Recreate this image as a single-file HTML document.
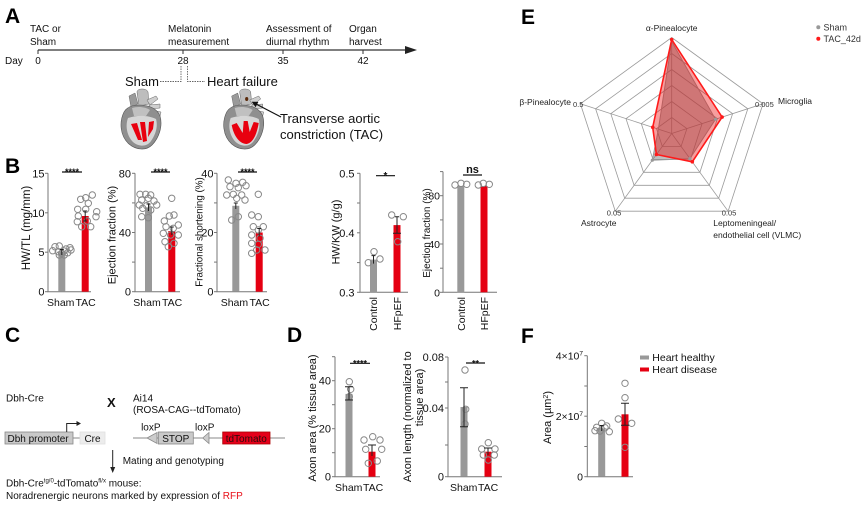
<!DOCTYPE html>
<html><head><meta charset="utf-8">
<style>
html,body{margin:0;padding:0;background:#fff;}
svg{display:block;font-family:"Liberation Sans",Arial,sans-serif;}
</style></head><body>
<svg width="867" height="506" viewBox="0 0 867 506" xmlns="http://www.w3.org/2000/svg">
<rect width="867" height="506" fill="#fff"/>

<!-- Panel letters -->
<g font-size="21" font-weight="bold" fill="#000">
<text x="5" y="23">A</text>
<text x="5" y="173">B</text>
<text x="5" y="342">C</text>
<text x="287" y="342">D</text>
<text x="521" y="24">E</text>
<text x="521" y="343">F</text>
</g>

<!-- ===== Panel A ===== -->
<g font-size="10" fill="#111">
<text x="30" y="32">TAC or</text><text x="30" y="45">Sham</text>
<text x="168" y="32">Melatonin</text><text x="168" y="45">measurement</text>
<text x="266" y="32">Assessment of</text><text x="266" y="45">diurnal rhythm</text>
<text x="349" y="32">Organ</text><text x="349" y="45">harvest</text>
<text x="5" y="64">Day</text>
<text x="38" y="64" text-anchor="middle">0</text>
<text x="183" y="64" text-anchor="middle">28</text>
<text x="283" y="64" text-anchor="middle">35</text>
<text x="363" y="64" text-anchor="middle">42</text>
</g>
<line x1="38" y1="50" x2="407" y2="50" stroke="#333" stroke-width="1.3"/>
<polygon points="405,46 417,50 405,54" fill="#222"/>
<g stroke="#333" stroke-width="1">
<line x1="38" y1="50" x2="38" y2="54"/><line x1="183" y1="50" x2="183" y2="54"/>
<line x1="283" y1="50" x2="283" y2="54"/><line x1="363" y1="50" x2="363" y2="54"/>
</g>
<g stroke="#666" stroke-width="0.9" stroke-dasharray="1.5,1" fill="none">
<path d="M181,66 V81.5 H160"/><path d="M187.5,66 V81.5 H205"/>
</g>
<text x="125" y="86" font-size="13" fill="#111">Sham</text>
<text x="207" y="86" font-size="13" fill="#111">Heart failure</text>

<!-- Sham heart -->
<g transform="translate(120,88)">
<path d="M9,8 L15,5 L18,16 L11,19 Z" fill="#9a9a9a" stroke="#666" stroke-width="0.5"/>
<path d="M17,4 C17,0 27,0 28,4 L29,16 L19,18 Z" fill="#bdbdbd" stroke="#666" stroke-width="0.5"/>
<path d="M27,12 L36,8 L38,11 L30,17 Z" fill="#cfcfcf" stroke="#666" stroke-width="0.5"/>
<path d="M29,17 L40,16 L40,20 L30,21 Z" fill="#cfcfcf" stroke="#666" stroke-width="0.5"/>
<path d="M30,22 L41,24 L40,28 L31,27 Z" fill="#cfcfcf" stroke="#666" stroke-width="0.5"/>
<path d="M4,24 C-1,34 0,48 9,56 C16,62 26,63 32,57 C39,50 43,38 40,28 C37,20 28,17 19,17 C12,17 7,19 4,24 Z" fill="#8f8f8f" stroke="#555" stroke-width="0.6"/>
<path d="M12,20 C18,18 26,19 30,22 L26,28 L14,28 Z" fill="#c0c0c0"/>
<path d="M8,30 C5,38 7,48 13,54 C19,59 27,59 31,53 C36,46 38,38 36,31 C28,27 17,27 8,30 Z" fill="#d6d6d6"/>
<path d="M11,36 L18,52 L22,52 L17,35 Z" fill="#e8000f"/>
<path d="M20,34 L23,54 L27,53 L25,34 Z" fill="#e8000f"/>
<path d="M29,34 L28,49 L33,41 L34,33 Z" fill="#e8000f"/>
</g>
<!-- TAC heart -->
<g transform="translate(222.7,88)">
<path d="M9,8 L15,5 L18,16 L11,19 Z" fill="#9a9a9a" stroke="#666" stroke-width="0.5"/>
<path d="M17,4 C17,0 27,0 28,4 L29,16 L19,18 Z" fill="#bdbdbd" stroke="#666" stroke-width="0.5"/>
<path d="M27,12 L36,8 L38,11 L30,17 Z" fill="#cfcfcf" stroke="#666" stroke-width="0.5"/>
<path d="M29,17 L40,16 L40,20 L30,21 Z" fill="#cfcfcf" stroke="#666" stroke-width="0.5"/>
<path d="M30,22 L41,24 L40,28 L31,27 Z" fill="#cfcfcf" stroke="#666" stroke-width="0.5"/>
<path d="M4,24 C-1,34 0,48 9,56 C16,62 26,63 32,57 C39,50 43,38 40,28 C37,20 28,17 19,17 C12,17 7,19 4,24 Z" fill="#8f8f8f" stroke="#555" stroke-width="0.6"/>
<path d="M12,20 C18,18 26,19 30,22 L26,28 L14,28 Z" fill="#c0c0c0"/>
<path d="M8,30 C5,38 7,48 13,54 C19,59 27,59 31,53 C36,46 38,38 36,31 C28,27 17,27 8,30 Z" fill="#d6d6d6"/>
<path d="M9,37 C11,48 17,56 24,56 C30,55 34,47 36,35 L31,34 L27,44 L25,33 L21,33 L20,45 L14,35 Z" fill="#e8000f"/>
<ellipse cx="24" cy="11" rx="1.6" ry="2" fill="#5a2a0a"/>
</g>
<line x1="281" y1="117" x2="256" y2="104" stroke="#111" stroke-width="1.2"/>
<polygon points="251.7,101.7 258.4,101.9 255.6,107.2" fill="#111"/>
<text x="280" y="123" font-size="13" fill="#111">Transverse aortic</text>
<text x="280" y="139" font-size="13" fill="#111">constriction (TAC)</text>

<!-- ===== Panel B ===== -->
<g font-size="10.5" fill="#111">
<!-- B1 HW/TL -->
<path d="M48,173.3 V291.7 H91" stroke="#777" fill="none"/>
<g stroke="#777"><line x1="45" y1="173.3" x2="48" y2="173.3"/><line x1="45" y1="212.8" x2="48" y2="212.8"/><line x1="45" y1="252.2" x2="48" y2="252.2"/><line x1="45" y1="291.7" x2="48" y2="291.7"/></g>
<g text-anchor="end" font-size="11"><text x="44.5" y="177.3">15</text><text x="44.5" y="216.8">10</text><text x="44.5" y="256.2">5</text><text x="44.5" y="295.7">0</text></g>
<rect x="58.3" y="252.2" width="7" height="39.5" fill="#999"/>
<rect x="81.7" y="216" width="7" height="75.7" fill="#e50012"/>
<g fill="none" stroke="#888" stroke-width="1">
<circle cx="55" cy="246.7" r="3.2"/><circle cx="59.3" cy="246" r="3.2"/><circle cx="66" cy="249" r="3.2"/><circle cx="70" cy="247.7" r="3.2"/>
<circle cx="52.7" cy="250.7" r="3.2"/><circle cx="58.3" cy="251.7" r="3.2"/><circle cx="64" cy="251" r="3.2"/><circle cx="71" cy="250" r="3.2"/>
<circle cx="59.3" cy="255" r="3.2"/><circle cx="64.3" cy="255" r="3.2"/><circle cx="61.7" cy="253.3" r="3.2"/><circle cx="67.7" cy="252.7" r="3.2"/>
<circle cx="85.7" cy="197.7" r="3.2"/><circle cx="92.3" cy="195" r="3.2"/><circle cx="80.7" cy="199.3" r="3.2"/><circle cx="88.3" cy="203.3" r="3.2"/>
<circle cx="77.7" cy="209.3" r="3.2"/><circle cx="85.7" cy="209.3" r="3.2"/><circle cx="96.7" cy="211.7" r="3.2"/><circle cx="78.3" cy="216" r="3.2"/>
<circle cx="96" cy="216.7" r="3.2"/><circle cx="77.3" cy="221.7" r="3.2"/><circle cx="87.3" cy="221" r="3.2"/><circle cx="81.7" cy="226.7" r="3.2"/><circle cx="90.7" cy="226.7" r="3.2"/>
</g>
<g stroke="#222" stroke-width="1"><path d="M61.8,249.5 V255 M59.8,249.5 H63.8"/><path d="M85.2,211 V221 M83.2,211 H87.2 M83.2,221 H87.2"/></g>
<line x1="62" y1="172" x2="82" y2="172" stroke="#111" stroke-width="1.2"/>
<text x="72" y="175" font-size="9" font-weight="bold" text-anchor="middle">****</text>
<text transform="translate(30,228) rotate(-90)" text-anchor="middle" font-size="11.5">HW/TL (mg/mm)</text>
<text x="47" y="306">Sham</text><text x="75.5" y="306">TAC</text>

<!-- B2 EF -->
<path d="M135,173.3 V291.7 H180" stroke="#777" fill="none"/>
<g stroke="#777"><line x1="132" y1="173.3" x2="135" y2="173.3"/><line x1="132" y1="202.9" x2="135" y2="202.9"/><line x1="132" y1="232.5" x2="135" y2="232.5"/><line x1="132" y1="262.1" x2="135" y2="262.1"/><line x1="132" y1="291.7" x2="135" y2="291.7"/></g>
<g text-anchor="end" font-size="11"><text x="131" y="177.3">80</text><text x="131" y="236.5">40</text><text x="131" y="295.7">0</text></g>
<rect x="145" y="207.3" width="7" height="84.4" fill="#999"/>
<rect x="168.3" y="231" width="7" height="60.7" fill="#e50012"/>
<g fill="none" stroke="#888" stroke-width="1">
<circle cx="140" cy="194.3" r="3.2"/><circle cx="145.7" cy="194.3" r="3.2"/><circle cx="150.7" cy="195" r="3.2"/><circle cx="141.7" cy="200" r="3.2"/>
<circle cx="148.3" cy="198.3" r="3.2"/><circle cx="154" cy="201" r="3.2"/><circle cx="139.3" cy="205" r="3.2"/><circle cx="146.7" cy="205.7" r="3.2"/>
<circle cx="156.7" cy="205" r="3.2"/><circle cx="142.7" cy="208.3" r="3.2"/><circle cx="150.7" cy="210" r="3.2"/><circle cx="141.7" cy="216.7" r="3.2"/><circle cx="148.3" cy="217.7" r="3.2"/>
<circle cx="171.7" cy="198.3" r="3.2"/><circle cx="169.3" cy="216" r="3.2"/><circle cx="174" cy="215" r="3.2"/><circle cx="164.3" cy="221" r="3.2"/>
<circle cx="178.3" cy="225" r="3.2"/><circle cx="166" cy="226.7" r="3.2"/><circle cx="173.3" cy="228.3" r="3.2"/><circle cx="163.3" cy="233.3" r="3.2"/>
<circle cx="170.7" cy="235" r="3.2"/><circle cx="178.3" cy="235" r="3.2"/><circle cx="165" cy="241.7" r="3.2"/><circle cx="174" cy="243.3" r="3.2"/><circle cx="168.3" cy="246.7" r="3.2"/>
</g>
<g stroke="#222" stroke-width="1"><path d="M148.5,204 V211 M146.5,204 H150.5"/><path d="M171.8,227 V235 M169.8,227 H173.8"/></g>
<line x1="151" y1="172" x2="170" y2="172" stroke="#111" stroke-width="1.2"/>
<text x="160.5" y="175" font-size="9" font-weight="bold" text-anchor="middle">****</text>
<text transform="translate(115.5,235) rotate(-90)" text-anchor="middle" font-size="11">Ejection fraction (%)</text>
<text x="133.3" y="306">Sham</text><text x="162" y="306">TAC</text>

<!-- B3 FS -->
<path d="M217,173.3 V291.7 H267" stroke="#777" fill="none"/>
<g stroke="#777"><line x1="214" y1="173.3" x2="217" y2="173.3"/><line x1="214" y1="202.9" x2="217" y2="202.9"/><line x1="214" y1="232.5" x2="217" y2="232.5"/><line x1="214" y1="262.1" x2="217" y2="262.1"/><line x1="214" y1="291.7" x2="217" y2="291.7"/></g>
<g text-anchor="end" font-size="11"><text x="213.5" y="177.3">40</text><text x="213.5" y="236.5">20</text><text x="213.5" y="295.7">0</text></g>
<rect x="232.3" y="205.8" width="7" height="85.9" fill="#999"/>
<rect x="255.7" y="232.5" width="7" height="59.2" fill="#e50012"/>
<g fill="none" stroke="#888" stroke-width="1">
<circle cx="228.3" cy="180" r="3.2"/><circle cx="236" cy="183.3" r="3.2"/><circle cx="242.7" cy="182.3" r="3.2"/><circle cx="230" cy="186.7" r="3.2"/>
<circle cx="238.3" cy="187.7" r="3.2"/><circle cx="246" cy="185.7" r="3.2"/><circle cx="226.7" cy="195" r="3.2"/><circle cx="233.3" cy="194.3" r="3.2"/>
<circle cx="241.7" cy="195" r="3.2"/><circle cx="236.7" cy="198.3" r="3.2"/><circle cx="245" cy="200" r="3.2"/><circle cx="231.7" cy="220" r="3.2"/><circle cx="238.3" cy="216.7" r="3.2"/>
<circle cx="258.3" cy="194.3" r="3.2"/><circle cx="251.7" cy="215" r="3.2"/><circle cx="258.3" cy="216.7" r="3.2"/><circle cx="263.3" cy="226.7" r="3.2"/>
<circle cx="253.3" cy="226.7" r="3.2"/><circle cx="258.3" cy="230" r="3.2"/><circle cx="251.7" cy="235" r="3.2"/><circle cx="260" cy="238.3" r="3.2"/>
<circle cx="251.7" cy="243.3" r="3.2"/><circle cx="258.3" cy="244.3" r="3.2"/><circle cx="265" cy="250" r="3.2"/><circle cx="251.7" cy="253.3" r="3.2"/><circle cx="256.7" cy="250" r="3.2"/>
</g>
<g stroke="#222" stroke-width="1"><path d="M235.8,203 V209 M233.8,203 H237.8"/><path d="M259.2,228.5 V236.5 M257.2,228.5 H261.2"/></g>
<line x1="238" y1="172" x2="257" y2="172" stroke="#111" stroke-width="1.2"/>
<text x="247.5" y="175" font-size="9" font-weight="bold" text-anchor="middle">****</text>
<text transform="translate(202.5,232) rotate(-90)" text-anchor="middle" font-size="9.8">Fractional shortening (%)</text>
<text x="220.7" y="306">Sham</text><text x="249.5" y="306">TAC</text>

<!-- B4 HW/KW -->
<path d="M360,173.3 V292.3 H408" stroke="#777" fill="none"/>
<g stroke="#777"><line x1="357" y1="173.3" x2="360" y2="173.3"/><line x1="357" y1="203" x2="360" y2="203"/><line x1="357" y1="232.8" x2="360" y2="232.8"/><line x1="357" y1="262.6" x2="360" y2="262.6"/><line x1="357" y1="292.3" x2="360" y2="292.3"/></g>
<g text-anchor="end" font-size="11"><text x="354.5" y="177.3">0.5</text><text x="354.5" y="236.8">0.4</text><text x="354.5" y="296.3">0.3</text></g>
<rect x="370" y="259.6" width="7" height="32.7" fill="#999"/>
<rect x="393.5" y="225.1" width="7" height="67.2" fill="#e50012"/>
<g fill="none" stroke="#888" stroke-width="1">
<circle cx="368.3" cy="262.7" r="3.2"/><circle cx="374" cy="251.7" r="3.2"/><circle cx="380" cy="259" r="3.2"/>
<circle cx="391.7" cy="215" r="3.2"/><circle cx="403.3" cy="216.7" r="3.2"/><circle cx="397.7" cy="241.7" r="3.2"/>
</g>
<g stroke="#222" stroke-width="1"><path d="M373.5,255.6 V263.6 M371.5,255.6 H375.5"/><path d="M397,216.7 V233.3 M395,216.7 H399 M393,233.3 H401"/></g>
<line x1="376" y1="175.7" x2="395" y2="175.7" stroke="#111" stroke-width="1.2"/>
<text x="385.5" y="179" font-size="10" font-weight="bold" text-anchor="middle">*</text>
<text transform="translate(339.5,232) rotate(-90)" text-anchor="middle" font-size="11">HW/KW (g/g)</text>
<text transform="translate(377,297) rotate(-90)" text-anchor="end" font-size="10.5">Control</text>
<text transform="translate(401,297) rotate(-90)" text-anchor="end" font-size="10.5">HFpEF</text>

<!-- B5 EF HFpEF -->
<path d="M443,171.6 V292.3 H497" stroke="#777" fill="none"/>
<g stroke="#777"><line x1="440" y1="171.6" x2="443" y2="171.6"/><line x1="440" y1="195.7" x2="443" y2="195.7"/><line x1="440" y1="219.9" x2="443" y2="219.9"/><line x1="440" y1="244" x2="443" y2="244"/><line x1="440" y1="268.2" x2="443" y2="268.2"/><line x1="440" y1="292.3" x2="443" y2="292.3"/></g>
<g text-anchor="end" font-size="10.5"><text x="440" y="199.7">80</text><text x="440" y="248">40</text><text x="440" y="296.3">0</text></g>
<rect x="457.3" y="186" width="7" height="106.3" fill="#999"/>
<rect x="480.5" y="186" width="7" height="106.3" fill="#e50012"/>
<g fill="none" stroke="#888" stroke-width="1">
<circle cx="455" cy="185" r="3.2"/><circle cx="461" cy="183.3" r="3.2"/><circle cx="466.7" cy="184.3" r="3.2"/>
<circle cx="478.3" cy="185" r="3.2"/><circle cx="483.3" cy="183.3" r="3.2"/><circle cx="489.3" cy="184.3" r="3.2"/>
</g>
<line x1="463" y1="175" x2="482" y2="175" stroke="#111" stroke-width="1.2"/>
<text x="472.5" y="173" font-size="11" font-weight="bold" text-anchor="middle">ns</text>
<text transform="translate(430,233) rotate(-90)" text-anchor="middle" font-size="10">Ejection fraction (%)</text>
<text transform="translate(465,297) rotate(-90)" text-anchor="end" font-size="10.5">Control</text>
<text transform="translate(488,297) rotate(-90)" text-anchor="end" font-size="10.5">HFpEF</text>
</g>

<!-- ===== Panel C ===== -->
<g font-size="10" fill="#111">
<text x="6" y="401.5">Dbh-Cre</text>
<text x="107" y="407" font-size="13" font-weight="bold">X</text>
<text x="133" y="401.5">Ai14</text>
<text x="133" y="413">(ROSA-CAG--tdTomato)</text>
<rect x="5" y="432" width="68" height="12" fill="#c9c9c9" stroke="#888" stroke-width="0.8"/>
<text x="7.5" y="442">Dbh promoter</text>
<line x1="73" y1="438" x2="80" y2="438" stroke="#888"/>
<rect x="80" y="432" width="25" height="12" fill="#ececec" stroke="#e0e0e0" stroke-width="0.8"/>
<text x="92.5" y="442" text-anchor="middle">Cre</text>
<path d="M66.7,432 V423.5 H77" stroke="#222" fill="none" stroke-width="1"/>
<polygon points="76.5,421 81,423.5 76.5,426" fill="#222"/>
<line x1="133" y1="438" x2="285" y2="438" stroke="#888"/>
<polygon points="147,438 157,432.5 157,443.5" fill="#ccc" stroke="#888" stroke-width="0.8"/>
<rect x="158.3" y="432" width="35" height="12" fill="#c9c9c9" stroke="#888" stroke-width="0.8"/>
<text x="175.8" y="442" text-anchor="middle">STOP</text>
<polygon points="202.7,438 209,432.5 209,443.5" fill="#ccc" stroke="#888" stroke-width="0.8"/>
<rect x="222.7" y="432" width="47.3" height="12" fill="#e5001a" stroke="#a00" stroke-width="0.8"/>
<text x="246.3" y="442" text-anchor="middle" fill="#2a0a0a">tdTomato</text>
<text x="150.8" y="430.5" text-anchor="middle">loxP</text>
<text x="204.7" y="430.5" text-anchor="middle">loxP</text>
<line x1="112.7" y1="450" x2="112.7" y2="468" stroke="#222" stroke-width="1"/>
<polygon points="110.2,467 115.2,467 112.7,473" fill="#222"/>
<text x="122.7" y="464">Mating and genotyping</text>
<text x="6" y="486.7">Dbh-Cre<tspan dy="-4" font-size="6">tg/0</tspan><tspan dy="4">-tdTomato</tspan><tspan dy="-4" font-size="6">fl/x</tspan><tspan dy="4"> mouse:</tspan></text>
<text x="6" y="499">Noradrenergic neurons marked by expression of <tspan fill="#e8101a">RFP</tspan></text>
</g>

<!-- ===== Panel D ===== -->
<g font-size="10.5" fill="#111">
<!-- D1 -->
<path d="M335,356.7 V476.7 H380" stroke="#777" fill="none"/>
<g stroke="#777"><line x1="332" y1="356.7" x2="335" y2="356.7"/><line x1="332" y1="380.7" x2="335" y2="380.7"/><line x1="332" y1="404.7" x2="335" y2="404.7"/><line x1="332" y1="428.7" x2="335" y2="428.7"/><line x1="332" y1="452.7" x2="335" y2="452.7"/><line x1="332" y1="476.7" x2="335" y2="476.7"/></g>
<g text-anchor="end" font-size="11"><text x="331" y="384.7">40</text><text x="331" y="432.7">20</text><text x="331" y="480.7">0</text></g>
<rect x="345.5" y="393.9" width="7" height="82.8" fill="#999"/>
<rect x="368.5" y="451.7" width="7" height="25" fill="#e50012"/>
<g fill="none" stroke="#888" stroke-width="1">
<circle cx="349.3" cy="381.7" r="3.2"/><circle cx="350.7" cy="389.3" r="3.2"/><circle cx="349.3" cy="396.7" r="3.2"/>
<circle cx="372.7" cy="436.7" r="3.2"/><circle cx="364" cy="440" r="3.2"/><circle cx="380" cy="440" r="3.2"/><circle cx="365.7" cy="449.3" r="3.2"/>
<circle cx="381.7" cy="449.3" r="3.2"/><circle cx="368.3" cy="463.3" r="3.2"/><circle cx="377.3" cy="461" r="3.2"/>
</g>
<g stroke="#222" stroke-width="1"><path d="M349,386.7 V400 M345,386.7 H353 M345,400 H353"/><path d="M372,445 V456 M368,445 H376"/></g>
<line x1="350" y1="363.3" x2="370" y2="363.3" stroke="#111" stroke-width="1.2"/>
<text x="360" y="366.5" font-size="9" font-weight="bold" text-anchor="middle">****</text>
<text transform="translate(316,418) rotate(-90)" text-anchor="middle" font-size="11">Axon area (% tissue area)</text>
<text x="335" y="491">Sham</text><text x="363" y="491">TAC</text>

<!-- D2 -->
<path d="M448,357 V476.7 H502" stroke="#777" fill="none"/>
<g stroke="#777"><line x1="445" y1="357" x2="448" y2="357"/><line x1="445" y1="382" x2="448" y2="382"/><line x1="445" y1="408" x2="448" y2="408"/><line x1="445" y1="445" x2="448" y2="445"/><line x1="445" y1="476.7" x2="448" y2="476.7"/></g>
<g text-anchor="end" font-size="11"><text x="444" y="361">0.08</text><text x="444" y="412">0.04</text><text x="444" y="480.7">0</text></g>
<rect x="460.5" y="407" width="7" height="69.7" fill="#999"/>
<rect x="484.5" y="451.7" width="7" height="25" fill="#e50012"/>
<g fill="none" stroke="#888" stroke-width="1">
<circle cx="465" cy="370" r="3.2"/><circle cx="465.7" cy="409.3" r="3.2"/><circle cx="465" cy="424" r="3.2"/>
<circle cx="488.3" cy="442.7" r="3.2"/><circle cx="481.7" cy="449" r="3.2"/><circle cx="495" cy="449" r="3.2"/>
<circle cx="483.3" cy="455" r="3.2"/><circle cx="494.3" cy="455" r="3.2"/><circle cx="488.3" cy="460" r="3.2"/>
</g>
<g stroke="#222" stroke-width="1"><path d="M464,387.7 V426.7 M460,387.7 H468 M460,426.7 H468"/><path d="M488,448 V455 M484,448 H492"/></g>
<line x1="466" y1="363" x2="485" y2="363" stroke="#111" stroke-width="1.2"/>
<text x="475.5" y="366.5" font-size="9" font-weight="bold" text-anchor="middle">**</text>
<text transform="translate(411,416.7) rotate(-90)" text-anchor="middle" font-size="11">Axon length (normalized to</text>
<text transform="translate(423,397.5) rotate(-90)" text-anchor="middle" font-size="11">tissue area)</text>
<text x="450" y="491">Sham</text><text x="478" y="491">TAC</text>
</g>

<!-- ===== Panel F ===== -->
<g font-size="10.5" fill="#111">
<path d="M587.3,355.7 V476.7 H633" stroke="#777" fill="none"/>
<g stroke="#777"><line x1="584.3" y1="355.7" x2="587.3" y2="355.7"/><line x1="584.3" y1="386" x2="587.3" y2="386"/><line x1="584.3" y1="416.2" x2="587.3" y2="416.2"/><line x1="584.3" y1="446.5" x2="587.3" y2="446.5"/><line x1="584.3" y1="476.7" x2="587.3" y2="476.7"/></g>
<g text-anchor="end" font-size="10.5">
<text x="583" y="359.7">4×10<tspan dy="-4" font-size="6.5">7</tspan></text>
<text x="583" y="420.2">2×10<tspan dy="-4" font-size="6.5">7</tspan></text>
<text x="583" y="480.7">0</text>
</g>
<rect x="598.2" y="428.3" width="7" height="48.4" fill="#999"/>
<rect x="621.5" y="414.3" width="7" height="62.4" fill="#e50012"/>
<g fill="none" stroke="#888" stroke-width="1">
<circle cx="601.7" cy="423.3" r="3.2"/><circle cx="596.7" cy="427.3" r="3.2"/><circle cx="606.7" cy="426" r="3.2"/>
<circle cx="595" cy="430.7" r="3.2"/><circle cx="609.3" cy="431.7" r="3.2"/><circle cx="600" cy="431" r="3.2"/><circle cx="605" cy="427.7" r="3.2"/>
<circle cx="625" cy="383.3" r="3.2"/><circle cx="625" cy="397.7" r="3.2"/><circle cx="618.3" cy="419" r="3.2"/>
<circle cx="631.7" cy="423.3" r="3.2"/><circle cx="625" cy="447.3" r="3.2"/>
</g>
<g stroke="#222" stroke-width="1"><path d="M601.7,425.5 V431 M599.7,425.5 H603.7"/><path d="M625,403.3 V425.3 M621,403.3 H629 M621,425.3 H629"/></g>
<text transform="translate(551,417.5) rotate(-90)" text-anchor="middle" font-size="11">Area (µm<tspan dy="-3" font-size="7">2</tspan><tspan dy="3">)</tspan></text>
<rect x="640" y="355.5" width="9" height="4" fill="#999"/>
<text x="652.3" y="361">Heart healthy</text>
<rect x="640" y="367.5" width="9" height="4" fill="#e50012"/>
<text x="652.3" y="373">Heart disease</text>
</g>

<!-- ===== Panel E (radar) ===== -->
<g fill="none" stroke="#9a9a9a" stroke-width="0.8">
<polygon points="671.7,37.5 763,103.8 728.1,211.2 615.3,211.2 580.4,103.8"/>
<polygon points="671.7,53.5 747.8,108.8 718.7,198.2 624.7,198.2 595.6,108.8"/>
<polygon points="671.7,69.5 732.6,113.7 709.3,185.3 634.1,185.3 610.8,113.7"/>
<polygon points="671.7,85.5 717.4,118.7 699.9,172.3 643.5,172.3 626,118.7"/>
<polygon points="671.7,101.5 702.1,123.6 690.5,159.4 652.9,159.4 641.3,123.6"/>
<polygon points="671.7,117.5 686.9,128.6 681.1,146.4 662.3,146.4 656.5,128.6"/>
<line x1="671.7" y1="133.5" x2="671.7" y2="37.5"/>
<line x1="671.7" y1="133.5" x2="763" y2="103.8"/>
<line x1="671.7" y1="133.5" x2="728.1" y2="211.2"/>
<line x1="671.7" y1="133.5" x2="615.3" y2="211.2"/>
<line x1="671.7" y1="133.5" x2="580.4" y2="103.8"/>
</g>
<polygon points="671.7,41.5 715.5,119.3 689.9,158.6 652.3,160.2 658.4,129.2" fill="rgba(128,128,128,0.5)" stroke="#999" stroke-width="1"/>
<polygon points="671.7,39.5 722.1,117.1 692.3,161.8 656.4,154.5 652.7,127.3" fill="rgba(235,0,0,0.38)" stroke="#ff1a1a" stroke-width="1.6"/>
<g fill="#999"><circle cx="715.5" cy="119.3" r="1.6"/><circle cx="689.9" cy="158.6" r="1.6"/><circle cx="652.3" cy="160.2" r="1.6"/></g>
<g fill="#ff1a1a"><circle cx="671.7" cy="39.5" r="1.8"/><circle cx="722.1" cy="117.1" r="1.8"/><circle cx="692.3" cy="161.8" r="1.8"/><circle cx="656.4" cy="154.5" r="1.8"/><circle cx="652.7" cy="127.3" r="1.8"/></g>
<g font-size="8.5" fill="#222">
<text x="671.7" y="31" text-anchor="middle">α-Pinealocyte</text>
<text x="571" y="105" text-anchor="end">β-Pinealocyte</text>
<text x="778" y="104">Microglia</text>
<text x="581" y="226">Astrocyte</text>
<text x="713.3" y="226">Leptomeningeal/</text>
<text x="713.3" y="238">endothelial cell (VLMC)</text>
</g>
<g font-size="7.5" fill="#333">
<text x="573" y="107">0.5</text>
<text x="755" y="107">0.005</text>
<text x="606.7" y="215.5">0.05</text>
<text x="721.7" y="215.5">0.05</text>
</g>
<circle cx="818.3" cy="27.3" r="2" fill="#999"/>
<text x="823.5" y="30.5" font-size="9" fill="#333">Sham</text>
<circle cx="818.3" cy="38.7" r="2" fill="#ff1a1a"/>
<text x="823.5" y="42" font-size="9" fill="#333">TAC_42d</text>

</svg>
</body></html>
